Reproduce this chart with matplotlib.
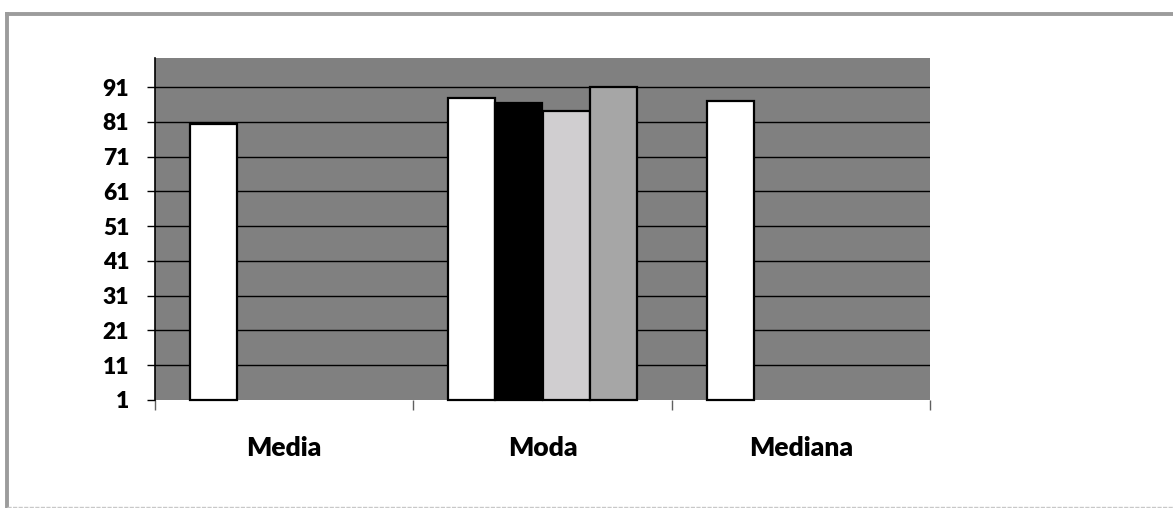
import numpy as np
import matplotlib
matplotlib.use("Agg")
import matplotlib.pyplot as plt
from matplotlib.lines import Line2D

# ---------------------------------------------------------------------------
categories = ["Media", "Moda", "Mediana"]
serie1 = [80.4, 87.9, 87.1]
serie2 = [np.nan, 86.3, np.nan]
serie3 = [np.nan, 84.0, np.nan]
serie4 = [np.nan, 91.0, np.nan]
series = [serie1, serie2, serie3, serie4]
colors = ["#ffffff", "#000000", "#d0ced0", "#a6a6a6"]
yticks = list(range(1, 92, 10))
# ---------------------------------------------------------------------------

plt.rcParams["font.family"] = ["Lato", "DejaVu Sans"]

fig = plt.figure(figsize=(11.73, 5.08), dpi=100)
ax = fig.add_axes([155 / 1173, 1 - 400 / 508, (930 - 155) / 1173, (400 - 58.3) / 508])
ax.set_facecolor("#808080")

base = yticks[0]
x = np.arange(len(categories))
w = 0.182
for i, (vals, c) in enumerate(zip(series, colors)):
    ax.bar(x + (i - 1.5) * w, np.array(vals) - base, w, bottom=base, color=c,
           edgecolor="black", linewidth=1.6, zorder=3, clip_on=False)

ax.set_xlim(-0.5, len(categories) - 0.5)
ax.set_ylim(base, 99.3)
ax.set_yticks(yticks)
ax.set_yticklabels([str(t) for t in yticks], fontsize=16.5, fontweight="heavy")
for t in yticks[1:]:
    ax.axhline(t, color="black", linewidth=1.0, zorder=1)

ax.set_xticks(x)
ax.set_xticklabels(categories, fontsize=19, fontweight="heavy")
ax.set_xticks(np.arange(-0.5, len(categories)), minor=True)
ax.tick_params(axis="x", which="major", length=0, pad=26)
ax.tick_params(axis="x", which="minor", length=7.5, color="#606060", width=1)
ax.tick_params(axis="y", length=5.5, width=1, color="black", pad=13)

for s in ["top", "right", "bottom"]:
    ax.spines[s].set_visible(False)
ax.spines["left"].set_linewidth(1.2)
ax.spines["left"].set_zorder(4)

# outer frame lines
fig.add_artist(Line2D([7 / 1173, 1], [1 - 13.5 / 508] * 2, transform=fig.transFigure,
                      color="#9c9c9c", linewidth=2.8))
fig.add_artist(Line2D([7 / 1173] * 2, [0, 1 - 13.5 / 508], transform=fig.transFigure,
                      color="#9c9c9c", linewidth=2.8))
fig.add_artist(Line2D([7 / 1173, 1], [1 - 506.5 / 508] * 2, transform=fig.transFigure,
                      color="#c8c8c8", linewidth=1.0, linestyle=(0, (3, 1))))

fig.savefig("out.png", dpi=100)
